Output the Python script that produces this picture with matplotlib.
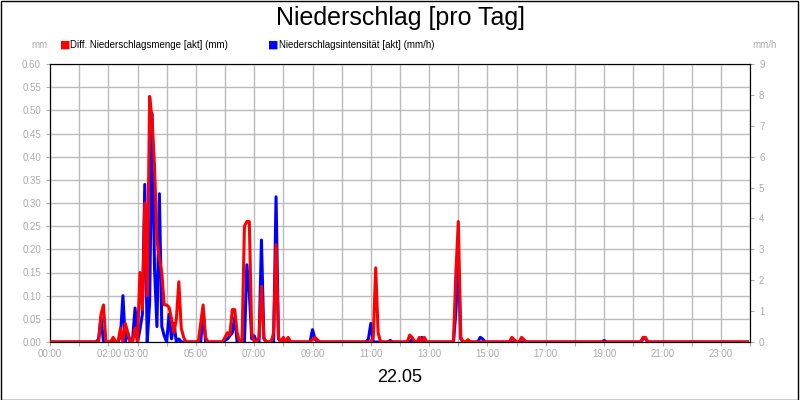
import numpy as np
import matplotlib
matplotlib.use("Agg")
import matplotlib.pyplot as plt
plt.rcParams["font.family"] = "Liberation Sans"

red_times = ["01:45","01:50","02:10","02:25","02:35","02:40","02:55","03:05","03:10","03:15","03:20","03:25","03:30","03:35","03:40","03:45","03:50","03:55","04:00","04:05","04:10","04:15","04:20","04:25","04:30","04:35",
             "05:10","05:15","05:20","06:00","06:05","06:10","06:15","06:20","06:25","06:40","06:45","06:50","06:55","07:10","07:15","07:20","07:40","07:45","07:50","08:00","08:10","09:00","09:05","09:10",
             "11:05","11:10","11:15","12:20","12:25","12:40","12:50","13:55","14:00","14:05","14:20","15:50","15:55","16:10","16:15","20:20","20:25"]
red_vals  = [0.06,0.08,0.01,0.03,0.04,0.02,0.03,0.15,0.07,0.30,0.10,0.53,0.48,0.38,0.22,0.18,0.15,0.08,0.08,0.075,0.05,0.02,0.05,0.13,0.03,0.01,
             0.04,0.08,0.01,0.01,0.02,0.015,0.07,0.07,0.02,0.25,0.26,0.26,0.02,0.01,0.12,0.01,0.02,0.21,0.01,0.01,0.01,0.005,0.01,0.005,
             0.01,0.16,0.02,0.015,0.01,0.01,0.01,0.15,0.26,0.01,0.005,0.01,0.005,0.01,0.005,0.01,0.01]

blue_times = ["01:40","01:45","02:10","02:25","02:30","02:40","02:50","02:55","03:05","03:10","03:15","03:25","03:30","03:35","03:40","03:45","03:50","03:55","04:05","04:10","04:15","04:25",
              "05:15","06:00","06:05","06:10","06:15","06:20","06:45","06:50","06:55","07:00","07:15","07:20","07:45","07:50","08:00","09:00","09:05",
              "10:55","11:00","11:40","12:25","12:45","13:55","14:00","14:05","14:45","14:50","19:00","20:20","20:25"]
blue_vals  = [0.1,0.8,0.1,0.2,1.5,0.3,0.1,1.1,0.4,0.9,5.1,1.3,7.4,2.4,0.5,4.8,0.5,0.2,0.9,0.1,0.6,0.1,
              1.0,0.05,0.1,0.2,0.3,0.8,2.5,1.6,0.1,0.2,3.3,0.1,4.7,0.1,0.1,0.4,0.1,
              0.1,0.6,0.05,0.1,0.15,1.0,2.7,0.1,0.15,0.1,0.05,0.1,0.1]

x_labels = [(0,"00:00"),(2.5,"02:00 03:00"),(5,"05:00"),(7,"07:00"),(9,"09:00"),(11,"11:00"),(13,"13:00"),
            (15,"15:00"),(17,"17:00"),(19,"19:00"),(21,"21:00"),(23,"23:00")]

def to_h(t):
    h, m = t.split(":")
    return int(h) + int(m) / 60.0

grid = np.arange(0, 24 * 12) / 12.0
def series(times, vals):
    y = np.zeros_like(grid)
    for t, v in zip(times, vals):
        y[int(round(to_h(t) * 12))] = v
    return y

fig = plt.figure(figsize=(8, 4), dpi=100)
fig.patch.set_facecolor("white")
fig.add_artist(plt.Rectangle((0.001, 0.001), 0.997, 0.997, transform=fig.transFigure, fill=False, ec="black", lw=1))
ax = fig.add_axes([50/800, 1-342/400, 700/800, 278/400])
ax2 = ax.twinx()
ax.set_zorder(ax2.get_zorder() + 1); ax.patch.set_visible(False)

ax.plot(grid, series(blue_times, blue_vals) * 0.6 / 9, color="#0000ff", lw=2.2, zorder=3)
ax.plot(grid, series(red_times, red_vals), color="#ff0000", lw=2.2, zorder=4)

ax.set_xlim(0, 24); ax.set_ylim(0, 0.6)
ax2.set_ylim(0, 9)
ax.set_yticks(np.arange(0, 0.61, 0.05))
ax.set_yticklabels([f"{v:.2f}" for v in np.arange(0, 0.61, 0.05)])
ax2.set_yticks(range(10))
ax.set_xticks(range(0, 25))
ax.set_xticklabels([])
for h, lab in x_labels:
    ax.text(h, -0.025, lab, ha="center", va="center", fontsize=7, color="#aaaaaa", clip_on=False)
ax.grid(True, color="#bbbbbb", lw=1)
for a in (ax, ax2):
    a.tick_params(labelsize=7, colors="#aaaaaa", length=3)
    for s in a.spines.values():
        s.set_color("black")

fig.text(0.5, 0.955, "Niederschlag [pro Tag]", ha="center", va="center", fontsize=18)
fig.text(0.5, 0.055, "22.05", ha="center", va="center", fontsize=13)
fig.text(40/800, 1-48/400, "mm", ha="center", fontsize=7, color="#aaaaaa")
fig.text(765/800, 1-48/400, "mm/h", ha="center", fontsize=7, color="#aaaaaa")
fig.text(60/800, 1-45/400, "■", color="red", fontsize=8, va="center", family="DejaVu Sans")
fig.text(70/800, 1-45/400, "Diff. Niederschlagsmenge [akt] (mm)", fontsize=7, va="center")
fig.text(268/800, 1-45/400, "■", color="blue", fontsize=8, va="center", family="DejaVu Sans")
fig.text(279/800, 1-45/400, "Niederschlagsintensität [akt] (mm/h)", fontsize=7, va="center")
fig.savefig("out.png", dpi=100)
